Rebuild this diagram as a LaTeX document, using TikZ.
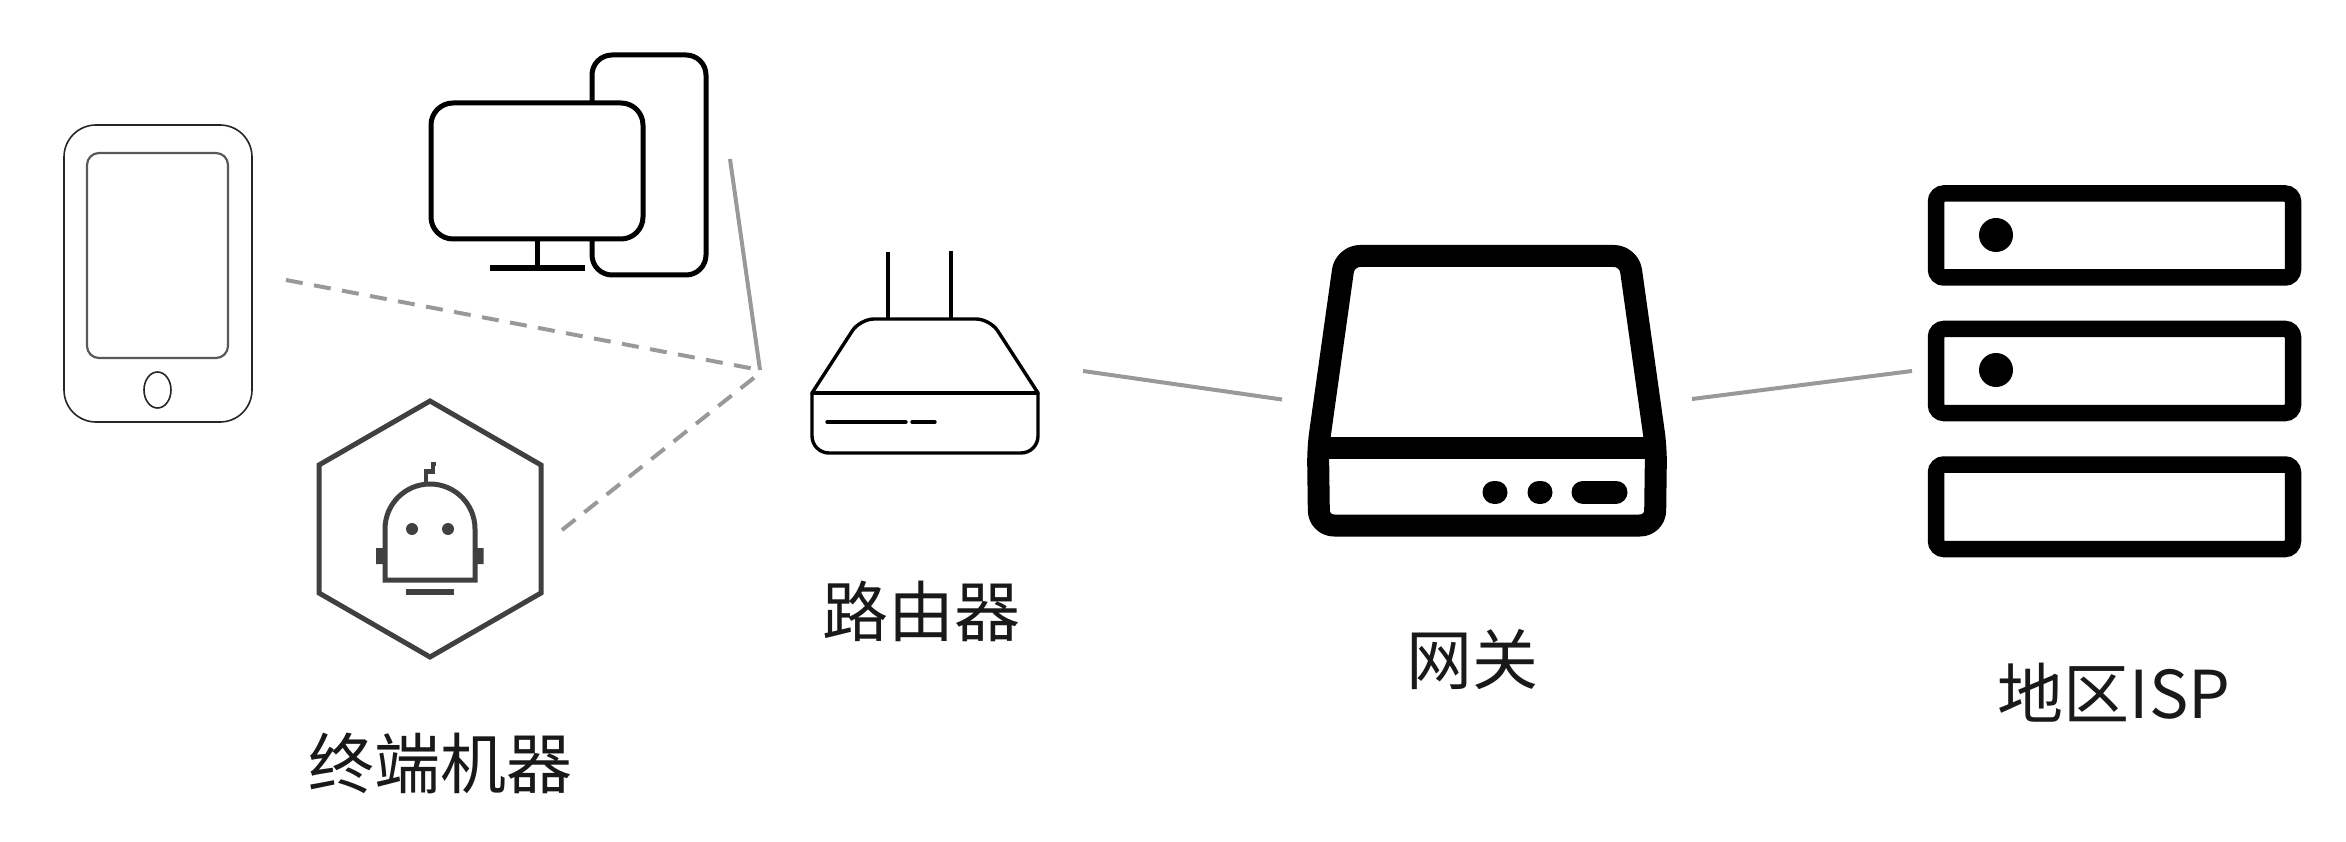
\documentclass[tikz,border=0pt]{standalone}
\usepackage{fontspec}
\setmainfont{Noto Sans CJK SC}
\tikzset{
  link/.style={draw=linkgray,line width=4pt},
  dashlink/.style={link,dash pattern=on 17pt off 11.5pt},
  thinicon/.style={draw=black!85,line width=1.6pt},
  pcline/.style={draw=black,line width=5pt,fill=white},
  robotline/.style={draw=robotgray,line width=5pt,line join=miter},
  routerline/.style={draw=black,line width=3.4pt},
  gateline/.style={draw=black,line width=22pt},
  srv/.style={draw=black,line width=16.5pt,rounded corners=8pt},
  caption/.style={font=\fontsize{66}{72}\selectfont,text=black!90,inner sep=0pt,anchor=center}
}
\definecolor{linkgray}{HTML}{999999}
\definecolor{robotgray}{HTML}{404040}
\begin{document}
\begin{tikzpicture}[x=1pt,y=-1pt]
\useasboundingbox (0,0) rectangle (2346,842);
% hub and free ends of connectors
\coordinate (hub1) at (760,370);
\coordinate (hub2) at (755,377);
\coordinate (phoneEnd) at (286,280);
\coordinate (pcEnd) at (730,159);
\coordinate (robotEnd) at (562,530);
\coordinate (routerR) at (1083,371);
\coordinate (gateL) at (1282,399.5);
\coordinate (gateR) at (1692,399);
\coordinate (ispL) at (1912,371);
% phone
\draw[thinicon,rounded corners=32pt] (64,125) rectangle (252,422);
\draw[thinicon,draw=black!65,line width=2.2pt,rounded corners=12pt] (87,153) rectangle (228,358);
\draw[thinicon] (157.5,390) ellipse[x radius=13.5pt,y radius=18pt];
% computer
\draw[pcline,rounded corners=20pt] (592,55) rectangle (706,275);
\draw[pcline,rounded corners=22pt] (431,103) rectangle (643,239);
\draw[pcline] (537,239) -- (537,268);
\draw[draw=black,line width=6.5pt] (490,268) -- (585,268);
% connectors to hub
\draw[dashlink] (phoneEnd) -- (hub1);
\draw[link] (pcEnd) -- (hub1);
\draw[dashlink] (robotEnd) -- (hub2);
% robot
\draw[robotline] (430,401) -- (541,465) -- (541,593) -- (430,657) -- (319,593) -- (319,465) -- cycle;
\draw[robotline] (385,529) arc[start angle=180,end angle=0,radius=45pt] -- (475,580) -- (385,580) -- cycle;
\fill[robotgray] (412,529) circle[radius=6pt] (448,529) circle[radius=6pt];
\fill[robotgray] (376,548) rectangle (385,564) (475,548) rectangle (483.5,564);
\draw[robotgray,line width=5.5pt] (406,592) -- (453.5,592);
\draw[robotgray,line width=4.5pt] (426,484) -- (426,471.5) -- (433,471.5) -- (433,464) -- (436,464);
% router
\draw[routerline] (888,252) -- (888,319);
\draw[routerline] (951,251) -- (951,319);
\draw[routerline,line join=round,rounded corners=14pt] (812,393) -- (860,319) -- (990,319) -- (1038,393);
\draw[routerline,rounded corners=17pt] (812,393) -- (812,453) -- (1038,453) -- (1038,393);
\draw[routerline,line cap=round] (812,393) -- (1038,393);
\draw[routerline,line cap=round] (827,422) -- (906,422);
\draw[routerline,line cap=round] (912,422) -- (935,422);
% gateway
\draw[gateline,line join=round,rounded corners=15pt] (1487,256) -- (1629,256) -- (1656,448) -- (1655,525.5) -- (1319,525.5) -- (1318,448) -- (1345,256) -- cycle;
\draw[gateline] (1318,448) -- (1656,448);
\draw[line width=23pt,line cap=round] (1494,492) -- (1496,492);
\draw[line width=23pt,line cap=round] (1539,492) -- (1541,492);
\draw[line width=23pt,line cap=round] (1583,492) -- (1616,492);
% servers
\draw[srv] (1936,193.5) rectangle (2293,277.5);
\draw[srv] (1936,329) rectangle (2293,413);
\draw[srv] (1936,464.5) rectangle (2293,549);
\fill (1996,235) circle[radius=17pt];
\fill (1996,370) circle[radius=17pt];
% connectors
\draw[link] (routerR) -- (gateL);
\draw[link] (gateR) -- (ispL);
% labels
\node[caption] (lblTerm) at (440,763) {终端机器};
\node[caption] (lblRouter) at (921,611) {路由器};
\node[caption] (lblGate) at (1472,660) {网关};
\node[caption] (lblISP) at (2114,693) {地区ISP};
\end{tikzpicture}
\end{document}
